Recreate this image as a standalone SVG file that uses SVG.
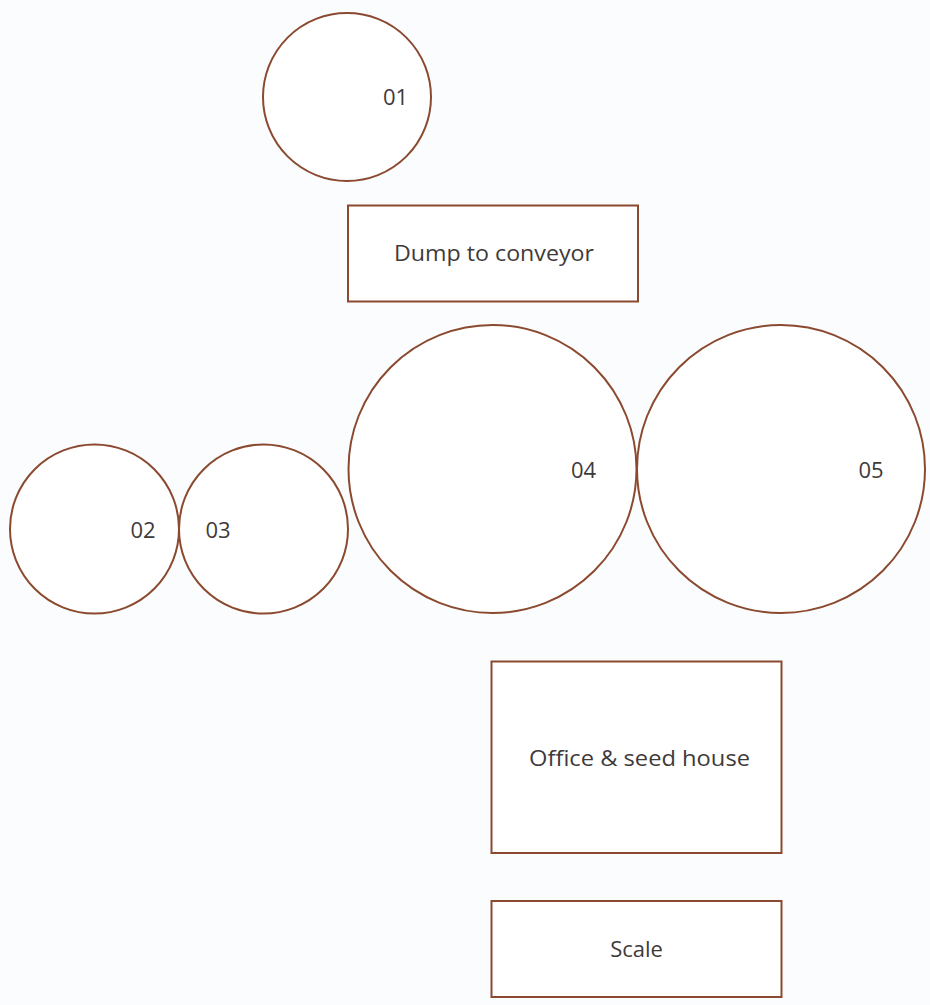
<svg xmlns="http://www.w3.org/2000/svg" width="930" height="1005" viewBox="0 0 930 1005">
  <style>
    .shape { fill: #ffffff; stroke: #8b4a30; stroke-width: 2; }
    .label { font-family: "Open Sans", "Liberation Sans", sans-serif; font-size: 22px; fill: #3f3a3a; text-anchor: middle; }
  </style>
  <rect x="0" y="0" width="930" height="1005" fill="#fbfcfd"/>
  <g id="connectors"></g>
  <g id="circle-01">
    <circle class="shape" cx="347" cy="97" r="84"/>
    <text class="label" x="395.5" y="105">01</text>
  </g>
  <g id="dump-to-conveyor">
    <rect class="shape" x="348" y="205.5" width="290" height="96"/>
    <text class="label" x="494" y="261" textLength="200" lengthAdjust="spacingAndGlyphs">Dump to conveyor</text>
  </g>
  <g id="circle-02">
    <circle class="shape" cx="94.5" cy="529" r="84.5"/>
    <text class="label" x="143" y="538">02</text>
  </g>
  <g id="circle-03">
    <circle class="shape" cx="263.5" cy="529" r="84.5"/>
    <text class="label" x="218" y="538">03</text>
  </g>
  <g id="circle-04">
    <circle class="shape" cx="492.5" cy="469" r="144"/>
    <text class="label" x="583.5" y="478">04</text>
  </g>
  <g id="circle-05">
    <circle class="shape" cx="781" cy="469" r="144"/>
    <text class="label" x="871" y="478">05</text>
  </g>
  <g id="office-seed-house">
    <rect class="shape" x="491.5" y="661.5" width="290" height="191.5"/>
    <text class="label" x="639.5" y="766" textLength="221" lengthAdjust="spacingAndGlyphs">Office &amp; seed house</text>
  </g>
  <g id="scale">
    <rect class="shape" x="491.5" y="901" width="290" height="96"/>
    <text class="label" x="636.5" y="957">Scale</text>
  </g>
</svg>
